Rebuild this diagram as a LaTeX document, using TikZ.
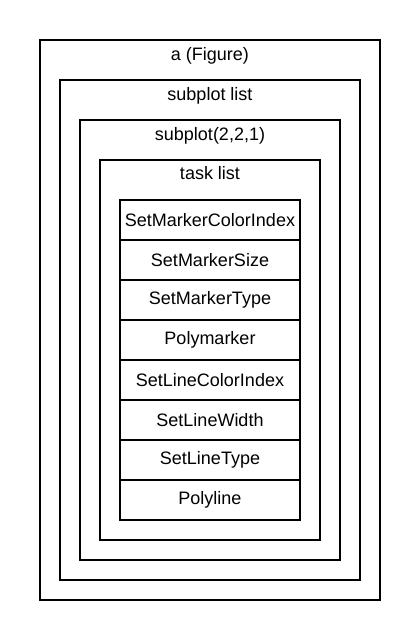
\documentclass[tikz,border=0pt]{standalone}
\usepackage{fontspec}
\setmainfont{Liberation Sans}
\begin{document}
\begin{tikzpicture}[x=1pt,y=-1pt,
  frame/.style={draw=black,line width=2pt,fill=white},
  lbl/.style={font=\fontsize{18}{21}\selectfont,inner sep=0pt,anchor=base},
  cell/.style={draw=black,line width=2pt,minimum width=180pt,minimum height=40pt,inner sep=0pt,font=\fontsize{18}{21}\selectfont}]
\useasboundingbox[fill=white] (0,0) rectangle (420,640);
\draw[frame] (40,40) rectangle (380,600);
\node[lbl] (t1) at (210,60) {a (Figure)};
\draw[frame] (60,80) rectangle (360,580);
\node[lbl] (t2) at (210,100) {subplot list};
\draw[frame] (80,120) rectangle (340,560);
\node[lbl] (t3) at (210,140) {subplot(2,2,1)};
\draw[frame] (100,160) rectangle (320,540);
\node[lbl] (t4) at (210,179) {task list};
\foreach \t [count=\i] in {SetMarkerColorIndex,SetMarkerSize,SetMarkerType,Polymarker,SetLineColorIndex,SetLineWidth,SetLineType,Polyline}
  \node[cell] (c\i) at (210,{180+40*\i}) {\t};
\end{tikzpicture}
\end{document}
